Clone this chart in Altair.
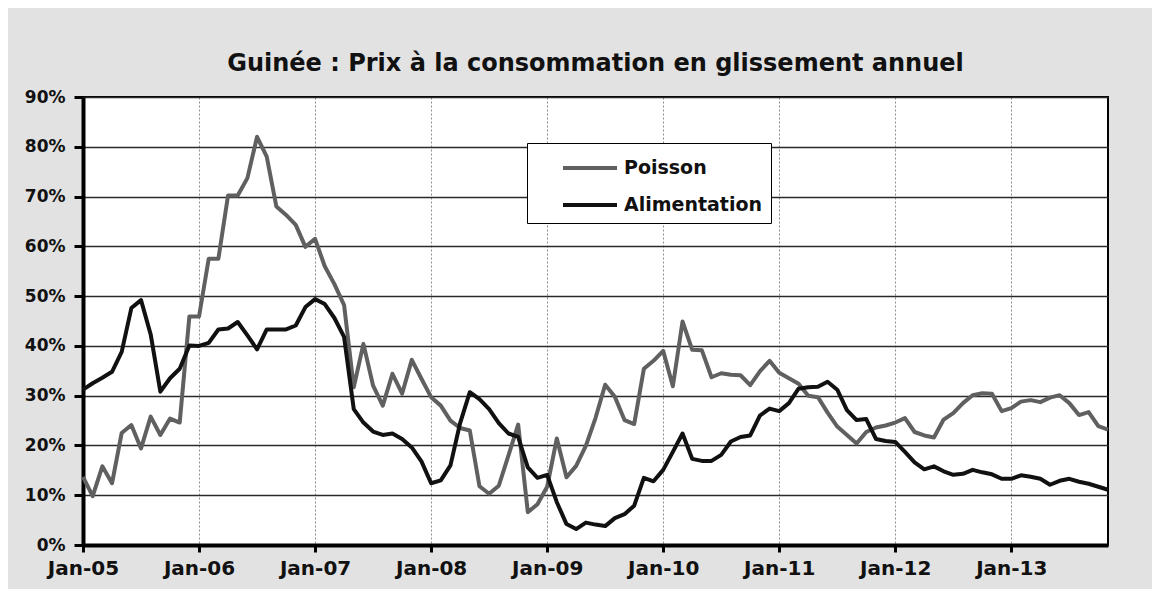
import altair as alt
import pandas as pd

# Monthly values, Jan-05 .. Nov-13 (percent, year-on-year)
poisson = [
    13.7, 9.8, 15.8, 12.4, 22.5, 24.1, 19.4, 25.8, 22.1, 25.4, 24.6, 45.9,
    45.9, 57.5, 57.5, 70.2, 70.2, 73.7, 82.0, 78.0, 68.0, 66.3, 64.3, 59.9,
    61.5, 56.0, 52.4, 48.2, 31.7, 40.4, 32.0, 28.0, 34.4, 30.4, 37.2, 33.4,
    29.7, 28.0, 25.0, 23.5, 23.0, 11.8, 10.3, 11.9, 18.0, 24.2, 6.6, 8.2,
    11.7, 21.4, 13.6, 15.9, 19.9, 25.5, 32.2, 29.8, 25.1, 24.3, 35.4, 37.0,
    39.0, 31.9, 44.9, 39.2, 39.1, 33.7, 34.5, 34.2, 34.1, 32.1, 34.9, 37.0,
    34.6, 33.5, 32.4, 30.0, 29.7, 26.6, 23.8, 22.1, 20.4, 22.7, 23.6, 24.0,
    24.6, 25.5, 22.7, 22.0, 21.6, 25.2, 26.5, 28.5, 30.1, 30.5, 30.4, 26.9,
    27.5, 28.8, 29.1, 28.7, 29.6, 30.1, 28.5, 26.1, 26.7, 23.9, 23.2,
]
alimentation = [
    31.2, 32.5, 33.6, 34.8, 38.8, 47.6, 49.2, 42.3, 30.8, 33.5, 35.4, 40.1,
    40.0, 40.6, 43.3, 43.5, 44.8, 42.1, 39.3, 43.3, 43.3, 43.3, 44.1, 47.8,
    49.4, 48.4, 45.6, 41.8, 27.3, 24.6, 22.8, 22.1, 22.4, 21.3, 19.6, 16.8,
    12.4, 13.0, 16.0, 24.5, 30.7, 29.3, 27.3, 24.5, 22.4, 21.7, 15.6, 13.5,
    14.1, 8.6, 4.2, 3.2, 4.5, 4.1, 3.8, 5.4, 6.2, 7.9, 13.5, 12.8,
    15.1, 18.7, 22.4, 17.3, 16.9, 16.9, 18.1, 20.8, 21.7, 22.0, 26.0, 27.4,
    26.9, 28.5, 31.4, 31.7, 31.8, 32.8, 31.2, 27.1, 25.1, 25.3, 21.3, 20.9,
    20.7, 18.7, 16.6, 15.2, 15.8, 14.8, 14.1, 14.3, 15.1, 14.6, 14.2, 13.3,
    13.3, 14.0, 13.7, 13.3, 12.1, 12.9, 13.3, 12.7, 12.3, 11.7, 11.1,
]
series_names = ["Poisson", "Alimentation"]
tick_pos = [0, 12, 24, 36, 48, 60, 72, 84, 96]
tick_labels = ["Jan-05", "Jan-06", "Jan-07", "Jan-08", "Jan-09",
               "Jan-10", "Jan-11", "Jan-12", "Jan-13"]
y_ticks = [0, 10, 20, 30, 40, 50, 60, 70, 80, 90]

n = len(poisson)
df = pd.DataFrame({
    "m": list(range(n)) * 2,
    "v": poisson + alimentation,
    "serie": [series_names[0]] * n + [series_names[1]] * n,
})

label_expr = "[" + ",".join("'%s'" % t for t in tick_labels) + "][round(datum.value/12)]"
FONT = "DejaVu Sans"

chart = alt.Chart(df).mark_line(strokeWidth=4, strokeJoin="round").encode(
    x=alt.X("m:Q",
            scale=alt.Scale(domain=[0, 106], nice=False, zero=False),
            axis=alt.Axis(values=tick_pos, labelExpr=label_expr, title=None,
                          grid=True, gridDash=[2, 2], gridColor="#8c8c8c", gridWidth=1,
                          domainColor="#000", domainWidth=4,
                          tickColor="#000", tickWidth=3, tickSize=7,
                          labelFont=FONT, labelFontWeight="bold", labelFontSize=20,
                          labelColor="#111", labelPadding=6, labelFlush=False)),
    y=alt.Y("v:Q",
            scale=alt.Scale(domain=[0, 90], nice=False),
            axis=alt.Axis(values=y_ticks, labelExpr="datum.value + '%'", title=None,
                          grid=True, gridColor="#2a2a2a", gridWidth=1.3,
                          domainColor="#000", domainWidth=4,
                          tickColor="#000", tickWidth=3, tickSize=9,
                          labelFont=FONT, labelFontWeight="bold", labelFontSize=17,
                          labelColor="#111", labelPadding=9)),
    color=alt.Color("serie:N",
                    scale=alt.Scale(domain=series_names, range=["#606060", "#111111"]),
                    legend=alt.Legend(title=None, orient="none", legendX=444, legendY=46,
                                      direction="vertical", symbolType="M-1.8,0H1.8",
                                      symbolStrokeWidth=4, symbolSize=900,
                                      symbolOffset=38, labelOffset=17,
                                      labelFont=FONT, labelFontWeight="bold",
                                      labelFontSize=19, labelColor="#111",
                                      fillColor="white", strokeColor="#000",
                                      padding=8, rowPadding=10)),
    order=alt.Order("m:Q"),
).properties(
    width=1025,
    height=448,
    title=alt.TitleParams(
        text="Guinée : Prix à la consommation en glissement annuel",
        font=FONT, fontSize=24, fontWeight="bold", color="#111",
        anchor="middle", offset=12),
    padding={"left": 75, "top": 89, "right": 44, "bottom": 44},
    autosize=alt.AutoSizeParams(type="none"),
).configure(
    background="#e2e2e2",
).configure_view(
    fill="white", stroke="#000", strokeWidth=2,
)

chart.save("out.html", embed_options={"renderer": "svg", "actions": False})
